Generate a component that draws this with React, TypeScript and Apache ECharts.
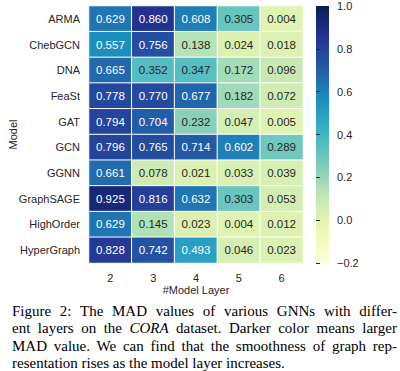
import React, { useEffect, useRef } from "react";
import * as echarts from "echarts";

const models = ["ARMA", "ChebGCN", "DNA", "FeaSt", "GAT", "GCN", "GGNN", "GraphSAGE", "HighOrder", "HyperGraph"];
const layers = ["2", "3", "4", "5", "6"];
const layer2 = [0.629, 0.557, 0.665, 0.778, 0.794, 0.796, 0.661, 0.925, 0.629, 0.828];
const layer3 = [0.86, 0.756, 0.352, 0.77, 0.704, 0.765, 0.078, 0.816, 0.145, 0.742];
const layer4 = [0.608, 0.138, 0.347, 0.677, 0.232, 0.714, 0.021, 0.632, 0.023, 0.493];
const layer5 = [0.305, 0.024, 0.172, 0.182, 0.047, 0.602, 0.033, 0.303, 0.004, 0.046];
const layer6 = [0.004, 0.018, 0.096, 0.072, 0.005, 0.289, 0.039, 0.053, 0.012, 0.023];
const colorTicks = [-0.2, 0.0, 0.2, 0.4, 0.6, 0.8, 1.0];
const vMin = -0.2;
const vMax = 1.0;

const YlGnBu = ["#ffffd9", "#edf8b1", "#c7e9b4", "#7fcdbb", "#41b6c4", "#1d91c0", "#225ea8", "#253494", "#081d58"];

const captionLines = [
  "Figure 2: The MAD values of various GNNs with differ-",
  "ent layers on the |CORA| dataset. Darker color means larger",
  "MAD value. We can find that the smoothness of graph rep-",
  "resentation rises as the model layer increases.",
];

const FONT = "Arial";
const LBL = 11;

export default function App() {
  const ref = useRef<HTMLDivElement>(null);
  useEffect(() => {
    if (!ref.current) return;
    const chart = echarts.init(ref.current, undefined, { renderer: "svg" });
    const cols = [layer2, layer3, layer4, layer5, layer6];
    const data: any[] = [];
    cols.forEach((col, xi) => {
      col.forEach((v, yi) => {
        data.push({
          value: [xi, yi, v],
          label: { color: v > 0.45 ? "#ffffff" : "#262626" },
        });
      });
    });
    const gx = 89, gy = 6, gw = 214, gh = 257;
    const cx = 316, cw = 13;
    chart.setOption({
      animation: false,
      textStyle: { fontFamily: FONT },
      grid: [
        { left: gx, top: gy, width: gw, height: gh, outerBoundsMode: "none", containLabel: false },
        { left: cx, top: gy, width: cw, height: gh, outerBoundsMode: "none", containLabel: false },
      ],
      xAxis: [
        {
          gridIndex: 0,
          type: "category",
          data: layers,
          axisLine: { show: false },
          axisTick: { show: false },
          axisLabel: { color: "#262626", fontSize: LBL, margin: 9, fontFamily: FONT },
          name: "#Model Layer",
          nameLocation: "middle",
          nameGap: 21,
          nameMoveOverlap: false,
          nameTextStyle: { color: "#262626", fontSize: LBL, fontFamily: FONT },
          splitLine: { show: false },
        },
        { gridIndex: 1, type: "value", min: 0, max: 1, show: false },
      ],
      yAxis: [
        {
          gridIndex: 0,
          type: "category",
          data: models,
          inverse: true,
          axisLine: { show: false },
          axisTick: { show: false },
          axisLabel: { color: "#262626", fontSize: LBL, margin: 9, fontFamily: FONT },
          name: "Model",
          nameLocation: "middle",
          nameGap: 71,
          nameMoveOverlap: false,
          nameRotate: 90,
          nameTextStyle: { color: "#262626", fontSize: LBL, fontFamily: FONT },
          splitLine: { show: false },
        },
        {
          gridIndex: 1,
          type: "value",
          position: "right",
          min: vMin,
          max: vMax,
          interval: 0.2,
          axisLine: { show: false },
          axisTick: { show: true, length: 4, lineStyle: { color: "#262626", width: 1 } },
          axisLabel: {
            color: "#262626",
            fontSize: LBL,
            margin: 8,
            fontFamily: FONT,
            customValues: colorTicks,
            formatter: (v: number) => (v < -1e-9 ? "\u2212" + Math.abs(v).toFixed(1) : Math.abs(v).toFixed(1)),
          },
          splitLine: { show: false },
        },
      ],
      visualMap: {
        show: false,
        min: vMin,
        max: vMax,
        dimension: 2,
        seriesIndex: 0,
        inRange: { color: YlGnBu },
      },
      graphic: [
        {
          type: "rect",
          shape: { x: cx, y: gy, width: cw, height: gh },
          style: {
            fill: new echarts.graphic.LinearGradient(
              0, 0, 0, 1,
              YlGnBu.slice().reverse().map((c, i) => ({ offset: i / (YlGnBu.length - 1), color: c }))
            ),
          },
          z: 0,
        },
      ],
      series: [
        {
          type: "heatmap",
          xAxisIndex: 0,
          yAxisIndex: 0,
          data,
          label: {
            show: true,
            fontSize: 11.5,
            fontFamily: FONT,
            formatter: (p: any) => p.value[2].toFixed(3),
          },
          itemStyle: { borderColor: "#ffffff", borderWidth: 1 },
          emphasis: { disabled: true },
        },
        {
          type: "scatter",
          xAxisIndex: 1,
          yAxisIndex: 1,
          data: [],
        },
      ],
    });
    return () => chart.dispose();
  }, []);

  return (
    <div style={{ position: "absolute", left: 0, top: 0, width: 400, height: 371, background: "#fff", overflow: "hidden" }}>
      <div ref={ref} style={{ position: "absolute", left: 0, top: 0, width: 400, height: 300 }} />
      <div
        style={{
          position: "absolute",
          left: 12,
          top: 303,
          width: 385,
          fontFamily: "'Liberation Serif', 'Times New Roman', serif",
          fontSize: 15,
          lineHeight: "17.4px",
          color: "#000",
        }}
      >
        {captionLines.map((line, i) => {
          const parts = line.split("|");
          return (
            <div
              key={i}
              style={{
                textAlign: "justify",
                textAlignLast: i < captionLines.length - 1 ? "justify" : "left",
                whiteSpace: "nowrap",
              }}
            >
              {parts.map((p, j) => (j % 2 === 1 ? <i key={j}>{p}</i> : <span key={j}>{p}</span>))}
            </div>
          );
        })}
      </div>
    </div>
  );
}
